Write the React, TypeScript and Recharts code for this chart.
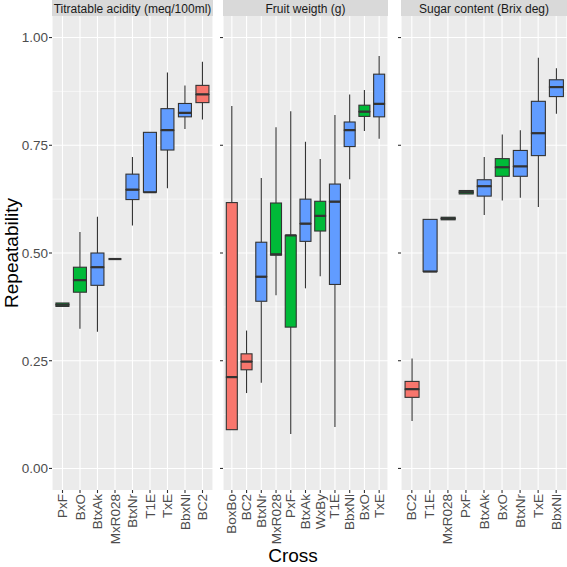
import React from 'react';
import { ComposedChart, Bar, XAxis, YAxis, CartesianGrid } from 'recharts';

// ---------- data ----------
const acidityCrosses = ['PxF', 'BxO', 'BtxAk', 'MxR028', 'BtxNr', 'T1E', 'TxE', 'BbxNl', 'BC2'];
const acidityMin = [0.376, 0.324, 0.317, 0.486, 0.564, 0.641, 0.650, 0.788, 0.810];
const acidityQ1 = [0.376, 0.409, 0.425, 0.486, 0.624, 0.641, 0.739, 0.816, 0.849];
const acidityMedian = [0.380, 0.437, 0.467, 0.486, 0.647, 0.641, 0.785, 0.825, 0.868];
const acidityQ3 = [0.384, 0.467, 0.500, 0.486, 0.683, 0.780, 0.835, 0.847, 0.889];
const acidityMax = [0.384, 0.549, 0.584, 0.486, 0.723, 0.780, 0.919, 0.889, 0.944];

const weightCrosses = ['BoxBo', 'BC2', 'BtxNr', 'MxR028', 'PxF', 'BtxAk', 'WxBy', 'T1E', 'BbxNl', 'BxO', 'TxE'];
const weightMin = [0.090, 0.175, 0.199, 0.402, 0.080, 0.418, 0.446, 0.096, 0.671, 0.783, 0.765];
const weightQ1 = [0.090, 0.229, 0.388, 0.495, 0.328, 0.527, 0.551, 0.427, 0.747, 0.817, 0.816];
const weightMedian = [0.212, 0.248, 0.445, 0.497, 0.541, 0.568, 0.586, 0.619, 0.785, 0.828, 0.846];
const weightQ3 = [0.617, 0.266, 0.525, 0.616, 0.541, 0.625, 0.620, 0.660, 0.804, 0.843, 0.915];
const weightMax = [0.841, 0.320, 0.674, 0.792, 0.829, 0.758, 0.718, 0.820, 0.868, 0.878, 0.957];

const sugarCrosses = ['BC2', 'T1E', 'MxR028', 'PxF', 'BtxAk', 'BxO', 'BtxNr', 'TxE', 'BbxNl'];
const sugarMin = [0.110, 0.457, 0.577, 0.637, 0.588, 0.622, 0.628, 0.607, 0.823];
const sugarQ1 = [0.165, 0.457, 0.577, 0.637, 0.632, 0.678, 0.678, 0.726, 0.863];
const sugarMedian = [0.184, 0.457, 0.580, 0.641, 0.655, 0.699, 0.701, 0.778, 0.885];
const sugarQ3 = [0.202, 0.578, 0.583, 0.645, 0.670, 0.719, 0.738, 0.852, 0.902];
const sugarMax = [0.255, 0.578, 0.583, 0.645, 0.723, 0.775, 0.785, 0.953, 0.929];

const panelTitles = ['Titratable acidity (meq/100ml)', 'Fruit weigth (g)', 'Sugar content (Brix deg)'];
const yTicks = [0, 0.25, 0.5, 0.75, 1];
const yMinor = [0.125, 0.375, 0.625, 0.875];
const redGroup = ['BC2', 'BoxBo'];
const greenGroup = ['BxO', 'MxR028', 'PxF', 'WxBy'];

// ---------- styles ----------
const FONT = '"Liberation Sans", Arial, Helvetica, sans-serif';
const RED = '#F8766D';
const GREEN = '#00BA38';
const BLUE = '#619CFF';
const LINE = '#333333';

const colorOf = (c: string) => (redGroup.includes(c) ? RED : greenGroup.includes(c) ? GREEN : BLUE);

function buildRows(crosses: string[], mins: number[], q1: number[], med: number[], q3: number[], maxs: number[]) {
  return crosses.map((c, i) => ({
    cross: c,
    base: mins[i],
    lowW: Math.max(0, q1[i] - mins[i]),
    boxLow: Math.max(0, med[i] - q1[i]),
    boxHigh: Math.max(0, q3[i] - med[i]),
    highW: Math.max(0, maxs[i] - q3[i]),
  }));
}

const acidityRows = buildRows(acidityCrosses, acidityMin, acidityQ1, acidityMedian, acidityQ3, acidityMax);
const weightRows = buildRows(weightCrosses, weightMin, weightQ1, weightMedian, weightQ3, weightMax);
const sugarRows = buildRows(sugarCrosses, sugarMin, sugarQ1, sugarMedian, sugarQ3, sugarMax);

const norm = (p: any) => {
  const h = Number(p.height) || 0;
  const y = h < 0 ? p.y + h : p.y;
  return { x: p.x, y, w: p.width, h: Math.abs(h) };
};

const EmptyShape = () => <g />;
const WhiskerShape = (p: any) => {
  const { x, y, w, h } = norm(p);
  const cx = x + w / 2;
  return <line x1={cx} x2={cx} y1={y} y2={y + h} stroke={LINE} strokeWidth={1.1} />;
};
const BoxLowShape = (p: any) => {
  const { x, y, w, h } = norm(p);
  return <rect x={x} y={y} width={w} height={h} fill={colorOf(p.payload.cross)} stroke={LINE} strokeWidth={1.1} />;
};
const BoxHighShape = (p: any) => {
  const { x, y, w, h } = norm(p);
  return (
    <g>
      <rect x={x} y={y} width={w} height={h} fill={colorOf(p.payload.cross)} stroke={LINE} strokeWidth={1.1} />
      <line x1={x} x2={x + w} y1={y + h} y2={y + h} stroke={LINE} strokeWidth={2.2} />
    </g>
  );
};

const XTick = (p: any) => {
  const { x, y, payload } = p;
  return (
    <text
      x={x}
      y={y}
      transform={`rotate(-90 ${x} ${y})`}
      textAnchor="end"
      dominantBaseline="central"
      fontSize={13.5}
      fontFamily={FONT}
      fill="#4D4D4D"
    >
      {payload.value}
    </text>
  );
};

const CHART_H = 567;
const TOP = 16;
const X_AXIS_H = 77;

function Panel({ rows, left, plotLeft, plotRight, yAxisWidth, showLabels, title }: any) {
  const plotW = plotRight - plotLeft;
  const width = yAxisWidth + plotW;
  const pad = (0.1 * plotW) / (rows.length + 0.2);
  return (
    <div style={{ position: 'absolute', left, top: 0, width, height: CHART_H }}>
      <div
        style={{
          position: 'absolute',
          left: yAxisWidth,
          top: 0,
          width: plotW,
          height: TOP,
          background: '#D9D9D9',
          color: '#1A1A1A',
          fontFamily: FONT,
          fontSize: 12,
          lineHeight: `${TOP + 2}px`,
          textAlign: 'center',
          whiteSpace: 'nowrap',
          overflow: 'hidden',
        }}
      >
        {title}
      </div>
      <ComposedChart
        width={width}
        height={CHART_H}
        data={rows}
        margin={{ top: TOP, right: 0, bottom: 0, left: 0 }}
        barCategoryGap="12.5%"
        style={{ position: 'absolute', left: 0, top: 0 }}
      >
        <CartesianGrid
          fill="#EBEBEB"
          stroke="#FFFFFF"
          strokeWidth={0.55}
          vertical={false}
          horizontalValues={yMinor}
        />
        <CartesianGrid
          stroke="#FFFFFF"
          strokeWidth={1.1}
          horizontalValues={yTicks}
        />
        <XAxis
          dataKey="cross"
          type="category"
          interval={0}
          height={X_AXIS_H}
          padding={{ left: pad, right: pad }}
          axisLine={false}
          tickLine={{ stroke: LINE, strokeWidth: 1.1 }}
          tickSize={3}
          tickMargin={1}
          tick={<XTick />}
        />
        <YAxis
          type="number"
          domain={[-0.05, 1.05]}
          allowDataOverflow
          ticks={yTicks}
          width={yAxisWidth}
          axisLine={false}
          tickLine={{ stroke: LINE, strokeWidth: 1.1 }}
          tickSize={3}
          tickMargin={1}
          tickFormatter={(v: number) => (showLabels ? v.toFixed(2) : '')}
          tick={{ fill: '#4D4D4D', fontSize: 13.5, fontFamily: FONT }}
        />
        <Bar dataKey="base" stackId="s" shape={<EmptyShape />} isAnimationActive={false} />
        <Bar dataKey="lowW" stackId="s" shape={<WhiskerShape />} isAnimationActive={false} />
        <Bar dataKey="boxLow" stackId="s" shape={<BoxLowShape />} isAnimationActive={false} />
        <Bar dataKey="boxHigh" stackId="s" shape={<BoxHighShape />} isAnimationActive={false} />
        <Bar dataKey="highW" stackId="s" shape={<WhiskerShape />} isAnimationActive={false} />
      </ComposedChart>
    </div>
  );
}

export default function App() {
  return (
    <div
      style={{
        position: 'absolute',
        left: 0,
        top: 0,
        width: 567,
        height: 567,
        overflow: 'hidden',
        background: '#FFFFFF',
      }}
    >
      <Panel rows={acidityRows} left={0} plotLeft={52} plotRight={213} yAxisWidth={52} showLabels title={panelTitles[0]} />
      <Panel rows={weightRows} left={213} plotLeft={223} plotRight={388} yAxisWidth={10} showLabels={false} title={panelTitles[1]} />
      <Panel rows={sugarRows} left={391} plotLeft={401} plotRight={567} yAxisWidth={10} showLabels={false} title={panelTitles[2]} />
      <svg width={567} height={567} style={{ position: 'absolute', left: 0, top: 0, pointerEvents: 'none' }}>
        <text
          x={18}
          y={253}
          transform="rotate(-90 18 253)"
          textAnchor="middle"
          fontSize={19}
          fontFamily={FONT}
          fill="#000000"
        >
          Repeatability
        </text>
        <text x={293} y={562} textAnchor="middle" fontSize={19} fontFamily={FONT} fill="#000000">
          Cross
        </text>
      </svg>
    </div>
  );
}
